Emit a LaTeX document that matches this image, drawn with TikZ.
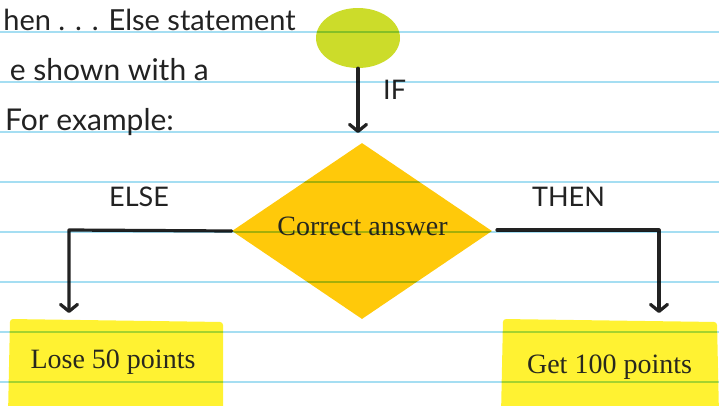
\documentclass[tikz,border=0pt]{standalone}
\usepackage{fontspec}
\setmainfont{Liberation Serif}
\newfontfamily\hand{Lato}
\usetikzlibrary{shapes.geometric,arrows.meta}
\definecolor{ruled}{RGB}{165,222,242}
\definecolor{ink}{RGB}{34,34,34}
\definecolor{startgreen}{RGB}{204,220,42}
\definecolor{condyellow}{RGB}{255,201,10}
\definecolor{notecolor}{RGB}{255,242,50}
\definecolor{textgray}{RGB}{40,40,30}
\tikzset{
  arr/.style={line width=3.2pt, draw=ink, line cap=round, line join=round,
    -{Straight Barb[length=7pt,width=17pt,line cap=round,line join=round]}},
  handtext/.style={font=\hand\fontsize{30}{34}\selectfont, text=ink, inner sep=0pt},
  labeltext/.style={font=\hand\fontsize{27}{30}\selectfont, text=ink, inner sep=0pt},
  serif/.style={font=\fontsize{28}{32}\selectfont, text=textgray, inner sep=0pt},
  notefill/.style={fill=notecolor, rounded corners=3pt}
}
\begin{document}
\begin{tikzpicture}[x=1pt,y=-1pt]
\useasboundingbox (0,0) rectangle (719,405);
\clip (0,0) rectangle (719,405);
% shapes
\node[ellipse, fill=startgreen, minimum width=84pt, minimum height=60pt, inner sep=0pt] (start) at (358,38) {};
\node[diamond, fill=condyellow, minimum width=260pt, minimum height=176pt, aspect=1.48, inner sep=0pt] (cond) at (362,231) {};
\fill[notefill] (10,319) -- (223,322) -- (223,415) -- (8,415) -- cycle;
\fill[notefill] (503,319) -- (717,322) -- (719,415) -- (501,415) -- cycle;
% texts
\node[serif, anchor=base] (condtext) at (362.5,235) {Correct answer};
\node[serif, anchor=base] (lose) at (113,368) {Lose 50 points};
\node[serif, anchor=base] (gain) at (609.5,373) {Get 100 points};
\node[handtext, anchor=base east, font=\hand\fontsize{29}{34}\selectfont] (t1) at (296,30.5) {hen . . . Else statement};
\node[handtext, anchor=base east] (t2) at (209,80.5) {e shown with a};
\node[handtext, anchor=base west] (t3) at (5,130.5) {For example:};
\node[labeltext, anchor=base west] (iflabel) at (383,99) {IF};
\node[labeltext, anchor=base] (elselabel) at (139,206.5) {ELSE};
\node[labeltext, anchor=base] (thenlabel) at (568.5,206.5) {THEN};
% connectors
\coordinate (iftip) at (358,133);
\coordinate (elsecorner) at (69,230);
\coordinate (elsetip) at (69,313);
\coordinate (thenstart) at (497,230);
\coordinate (thencorner) at (659,230);
\coordinate (thentip) at (659,313);
\draw[arr] (start.south) -- (iftip);
\draw[arr] (cond.west) -- (elsecorner) -- (elsetip);
\draw[arr] (thenstart) -- (thencorner) -- (thentip);
% ruled lines
\begin{scope}[blend mode=multiply]
\foreach \k in {0,...,7}{
  \draw[ruled, line width=2pt] (0,31.7+50*\k) -- (719,31.7+50*\k);
}
\end{scope}
\end{tikzpicture}
\end{document}
